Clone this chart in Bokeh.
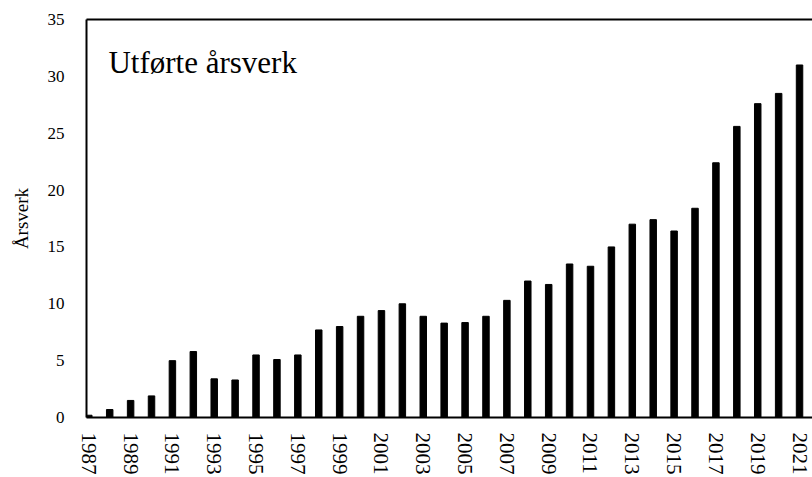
from bokeh.plotting import figure
from bokeh.models import Range1d, FixedTicker, LinearAxis, Label
from bokeh.embed import file_html
from bokeh.resources import INLINE

years = list(range(1987, 2022))
values = [0.2, 0.7, 1.5, 1.9, 5.0, 5.8, 3.4, 3.3, 5.5, 5.1,
          5.5, 7.7, 8.0, 8.9, 9.4, 10.0, 8.9, 8.3, 8.35, 8.9,
          10.3, 12.0, 11.7, 13.5, 13.3, 15.0, 17.0, 17.4, 16.4, 18.4,
          22.4, 25.6, 27.6, 28.5, 31.0]
x_ticks = list(range(1987, 2022, 2))
y_ticks = [0, 5, 10, 15, 20, 25, 30, 35]
title_text = "Utførte årsverk"
y_label = "Årsverk"

FONT = "Liberation Serif"

p = figure(width=812, height=477, output_backend="svg", toolbar_location=None,
           x_range=Range1d(1986.89, 2021.62), y_range=Range1d(0, 35),
           min_border_left=86, min_border_right=0, min_border_top=19,
           min_border_bottom=56, background_fill_color="white",
           border_fill_color="white", outline_line_color=None)

p.vbar(x=years, top=values, width=0.31, color="black")

p.xgrid.visible = False
p.ygrid.visible = False

xa = p.xaxis[0]
ya = p.yaxis[0]
for ax in [xa, ya]:
    ax.axis_line_color = "black"
    ax.axis_line_width = 2
    ax.major_tick_line_color = None
    ax.minor_tick_line_color = None
    ax.major_tick_out = 0
    ax.major_tick_in = 0
    ax.major_label_text_font = FONT
    ax.major_label_text_color = "black"

xa.ticker = FixedTicker(ticks=x_ticks)
xa.major_label_orientation = -1.5707963
xa.major_label_text_font_size = "21px"
xa.major_label_standoff = 15

ya.ticker = FixedTicker(ticks=y_ticks)
ya.major_label_text_font_size = "17px"
ya.major_label_standoff = 22
ya.axis_label = y_label
ya.axis_label_text_font = FONT
ya.axis_label_text_font_size = "19px"
ya.axis_label_text_font_style = "normal"
ya.axis_label_text_color = "black"
ya.axis_label_standoff = 13

top_axis = LinearAxis(ticker=FixedTicker(ticks=[]), axis_line_width=2,
                      axis_line_color="black", major_tick_line_color=None,
                      minor_tick_line_color=None, major_label_text_font_size="0px",
                      major_tick_out=0, major_tick_in=0)
p.add_layout(top_axis, "above")

p.add_layout(Label(x=1987.94, y=31.2, text=title_text, text_font=FONT,
                   text_font_size="31px", text_color="black",
                   text_baseline="alphabetic", text_align="left"))

open("out.html", "w").write(file_html(p, INLINE))
